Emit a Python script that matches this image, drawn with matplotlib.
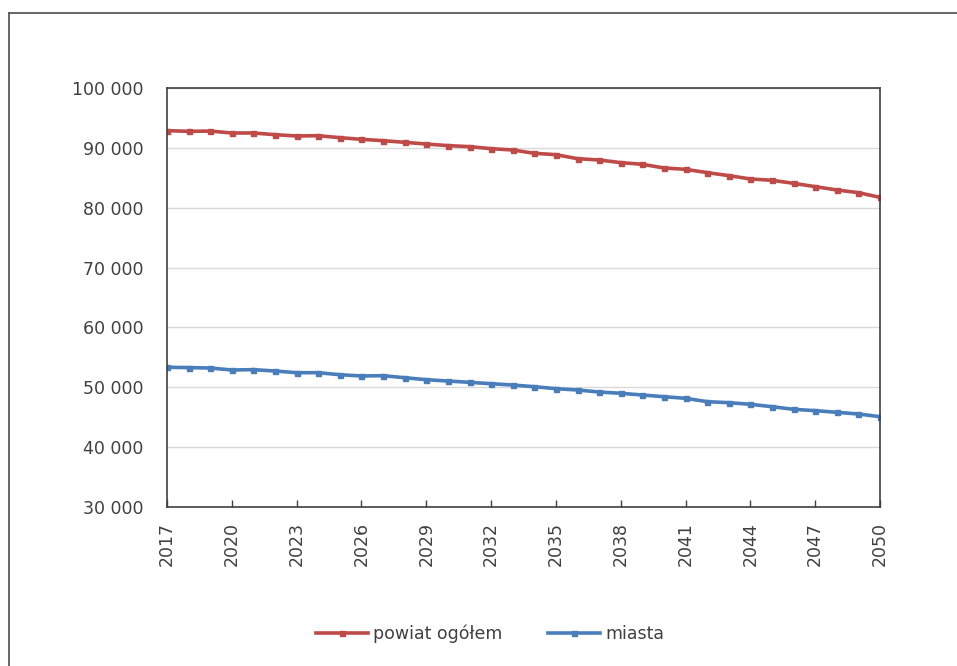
import matplotlib
matplotlib.use("Agg")
import matplotlib.pyplot as plt
from matplotlib.lines import Line2D
from matplotlib.ticker import FuncFormatter

years = list(range(2017, 2051))

powiat = [92870, 92760, 92800, 92480, 92480, 92200, 91980, 92030, 91700, 91420,
          91200, 90920, 90640, 90370, 90200, 89860, 89640, 89090, 88860, 88190,
          87970, 87530, 87250, 86640, 86410, 85860, 85360, 84800, 84580, 84070,
          83520, 82960, 82510, 81730]

miasta = [53340, 53290, 53220, 52890, 52950, 52720, 52440, 52440, 52100, 51890,
          51940, 51600, 51270, 51050, 50830, 50600, 50380, 50100, 49770, 49550,
          49210, 49000, 48710, 48430, 48160, 47600, 47430, 47160, 46760, 46320,
          46100, 45820, 45540, 45090]

labels = ["powiat ogółem", "miasta"]
xticks = list(range(2017, 2051, 3))
yticks = list(range(30000, 100001, 10000))

red = "#BE4B48"
blue = "#4A7EBB"
txt = "#404040"

plt.rcParams['font.family'] = ['DejaVu Sans']

fig = plt.figure(figsize=(9.57, 6.66), dpi=100)
ax = fig.add_axes([0.1745, 0.2387, 0.9196 - 0.1745, 0.8679 - 0.2387])

ax.plot(years, powiat, color=red, lw=2.6, marker='s', ms=3.6, label=labels[0])
ax.plot(years, miasta, color=blue, lw=2.6, marker='s', ms=3.6, label=labels[1])

ax.set_xlim(2017, 2050)
ax.set_ylim(30000, 100000)
ax.set_xticks(xticks)
ax.set_xticklabels([str(y) for y in xticks], rotation=90, color=txt, fontsize=12.5)
ax.set_yticks(yticks)
ax.yaxis.set_major_formatter(FuncFormatter(lambda v, p: "{:,}".format(int(v)).replace(",", " ")))
for t in ax.get_yticklabels():
    t.set_color(txt)
    t.set_fontsize(12.5)

ax.tick_params(axis='x', direction='in', length=5, width=1, color="#404040", pad=11)
ax.tick_params(axis='y', length=0, pad=17)

ax.grid(axis='y', color="#d9d9d9", lw=1)
ax.set_axisbelow(True)
for s in ax.spines.values():
    s.set_color("#404040")
    s.set_linewidth(1.2)

fig.legend(loc='center', bbox_to_anchor=(0.512, 0.048), ncol=2, frameon=False,
           fontsize=12.5, handlelength=3, columnspacing=2.6, handletextpad=0.3,
           labelcolor=txt)

# outer chart border (only top and left visible in the crop)
fig.add_artist(Line2D([9 / 957, 9 / 957], [0, 1 - 13 / 666], transform=fig.transFigure,
                      color="#595959", lw=1.3))
fig.add_artist(Line2D([9 / 957, 1], [1 - 13 / 666, 1 - 13 / 666], transform=fig.transFigure,
                      color="#595959", lw=1.3))

fig.savefig("out.png", dpi=100)
